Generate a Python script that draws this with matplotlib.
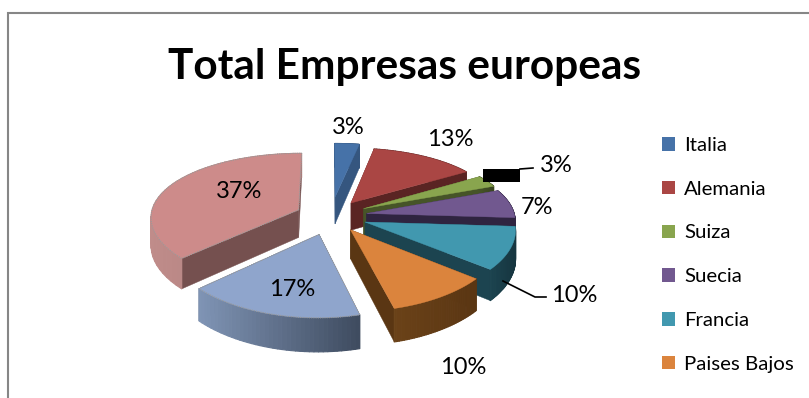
#!/usr/bin/env python3
'''
Total Empresas europeas: exploded 3D pie drawn with plain polygons
'''
import numpy as np
import matplotlib
matplotlib.use('Agg')
from matplotlib import pyplot as plt
from matplotlib.collections import PolyCollection
from matplotlib.patches import Patch, Rectangle, Polygon

W, H = 809, 398

categories = ['Italia', 'Alemania', 'Suiza', 'Suecia', 'Francia', 'Paises Bajos']
values = [3, 13, 3, 7, 10, 10, 17, 37]
title = 'Total Empresas europeas'

# pie geometry, in pixels
CX, CY = 331, 216
RX, RY = 148, 66
PERSP_X = 0.10
PERSP_Y = 0.14
DEPTH = 28

explode = [0.30, 0.245, 0.25, 0.245, 0.245, 0.24, 0.28, 0.24]
top_colors = ['#4672a8', '#aa4644', '#89a54e', '#71588f', '#4198af', '#db843d', '#8fa5cc', '#cd8b8a']
rim_left = ['#35567f', '#5a2423', '#465428', '#2f2440', '#1c4450', '#6b4218', '#8095b6', '#c08c8a']
rim_right = ['#35567f', '#5a2423', '#3a4621', '#2f2440', '#16353f', '#5a3613', '#3f4c60', '#a87d7b']
face_colors = ['#35567f', '#5a2423', '#465428', '#2f2440', '#1c4450', '#5a3613', '#3f4c60', '#75504f']
draw_order = [7, 0, 1, 2, 3, 4, 5, 6]

label_pos = [(348, 128), (450, 140), (556, 166), (537, 208), (574, 295), (463, 368), (292, 289), (239, 191)]


def project(u, v):
    sx = 1 / (1 - PERSP_X * v)
    sy = 1 / (1 - PERSP_Y * v)
    return CX + RX * sx * u, CY + RY * sy * v, sy


def hex2rgb(c):
    return np.array(matplotlib.colors.to_rgb(c))


def i_z(i):
    return 2 + draw_order.index(i)


def draw_slice(ax, i, a0, a1):
    mid = (a0 + a1) / 2
    u0 = explode[i] * np.sin(mid)
    v0 = -explode[i] * np.cos(mid)
    th = np.linspace(a0, a1, 40)
    xs, ys, ss = project(u0 + np.sin(th), v0 - np.cos(th))
    ax0, ay0, as0 = project(u0, v0)

    # radial walls first, the rim and the top surface paint over what is hidden
    for k in (0, -1):
        wall = [(ax0, ay0), (xs[k], ys[k]), (xs[k], ys[k] + DEPTH * ss[k]), (ax0, ay0 + DEPTH * as0)]
        ax.add_patch(Polygon(wall, closed=True, fc=face_colors[i], ec=face_colors[i], lw=0.3, zorder=i_z(i)))

    quads = []
    cols = []
    left, right = hex2rgb(rim_left[i]), hex2rgb(rim_right[i])
    span = max(xs.max() - xs.min(), 1)
    for k in range(len(th) - 1):
        quads.append([(xs[k], ys[k]), (xs[k + 1], ys[k + 1]),
                      (xs[k + 1], ys[k + 1] + DEPTH * ss[k + 1]), (xs[k], ys[k] + DEPTH * ss[k])])
        t = (xs[k] - xs.min()) / span
        cols.append(left + (right - left) * t)
    ax.add_collection(PolyCollection(quads, facecolors=cols, edgecolors=cols, linewidths=0.8, zorder=i_z(i)))

    top = [(ax0, ay0)] + list(zip(xs, ys))
    ax.add_patch(Polygon(top, closed=True, fc=top_colors[i], ec=top_colors[i], lw=0.3, zorder=i_z(i)))
    if i >= 6:
        # the two big slices carry a dotted outline
        ax.add_patch(Polygon(top, closed=True, fill=False, ec='#9a9a9a', lw=0.8, ls=(0, (1, 1)), zorder=i_z(i)))


fig = plt.figure(figsize=(W / 100, H / 100), dpi=100)
ax = fig.add_axes([0, 0, 1, 1])
ax.set_xlim(0, W)
ax.set_ylim(H, 0)
ax.axis('off')

plt.rcParams['font.family'] = ['Lato', 'DejaVu Sans']

# chart frame, only the top and left sides fall on the canvas
ax.plot([8, 8, W + 2], [H + 2, 13.3, 13.3], color='#868686', lw=1.5, zorder=1, solid_joinstyle='miter')

total = sum(values)
edges = np.cumsum([0] + values) / total * 2 * np.pi
for i in draw_order:
    draw_slice(ax, i, edges[i], edges[i + 1])

ax.text(405, 67, title, ha='center', va='center', fontsize=30.5, fontweight='bold', color='black')

for v, (x, y) in zip(values, label_pos):
    ax.text(x, y, f'{v}%', ha='center', va='center', fontsize=17, color='black', zorder=20)

# leader lines
ax.plot([503, 535, 546], [281, 297, 297], color='black', lw=1.2, zorder=20)
ax.plot([520, 533], [169, 168], color='black', lw=1.2, zorder=20)
ax.add_patch(Rectangle((483, 169), 37, 13, fc='black', ec='none', zorder=20))

handles = [Patch(fc=c, ec='none', label=n) for c, n in zip(top_colors, categories)]
ax.legend(handles=handles, loc='upper left', bbox_to_anchor=(662 / W, 1 - 137 / H), frameon=False,
          fontsize=14.7, handlelength=0.64, handleheight=0.64, handletextpad=0.44,
          labelspacing=1.31, borderpad=0, borderaxespad=0)

fig.savefig('out.png', dpi=100)
